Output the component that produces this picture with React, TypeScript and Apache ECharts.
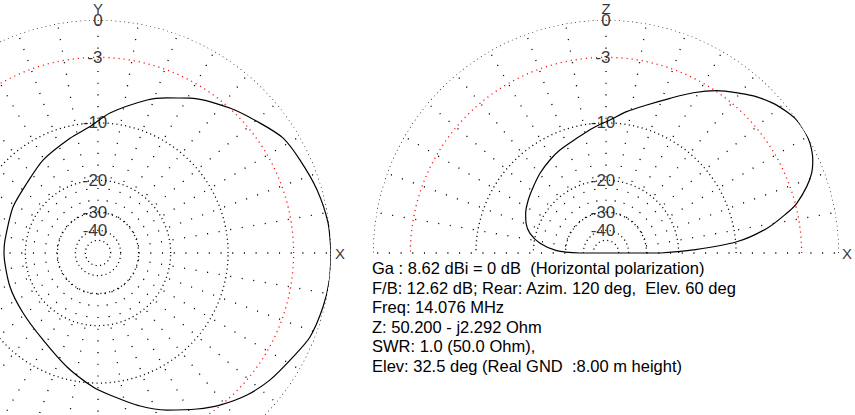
import React, { useEffect, useRef } from 'react';
import * as echarts from 'echarts';

// Azimuth pattern (left plot): angle from X axis (deg, CCW) and gain (dB rel. max)
const azimuthDeg = [0, 7.4, 16, 24.7, 31.9, 38.7, 47.7, 59.3, 66, 72.2, 85.1, 93.6, 103.7, 120.6, 135.4, 151.6, 172, 180, 201, 218.7, 237.7, 254.8, 267.9, 274.8, 285.4, 293.7, 302.4, 308.7, 316.4, 323.6, 331.9, 338.4, 346.5, 353.4, 360];
const azimuthDb = [0, -0.07, -0.37, -0.8, -1.16, -1.97, -2.97, -4.41, -5.44, -6.38, -8.68, -10.45, -11.66, -13.2, -14.57, -15.11, -15.6, -15.58, -15.53, -15.22, -14.03, -11.66, -9.48, -8.44, -6.59, -5.26, -3.98, -3.07, -2.13, -1.48, -0.91, -0.37, -0.12, 0, 0];

// Elevation pattern (right plot): elevation angle from X axis (deg) and gain (dB rel. max)
const elevationDeg = [0, 2, 4.9, 8.7, 12.4, 14.6, 18.3, 21.2, 24.2, 28.3, 31.7, 34.9, 38, 41.8, 46, 50, 55.7, 61.4, 67.5, 74.6, 81.7, 88.3, 95.9, 104.3, 114.1, 121.1, 129.6, 137.6, 145.7, 153.7, 159.6, 165.5, 171.6, 177.3, 180];
const elevationDb = [-24.8, -16.9, -9.86, -6.17, -3.96, -2.87, -1.67, -0.94, -0.47, -0.1, 0, -0.04, -0.27, -0.64, -1.21, -1.91, -2.92, -4.19, -5.67, -7.16, -8.4, -9.61, -10.59, -11.62, -12.45, -13.1, -13.93, -14.8, -15.56, -16.4, -17.25, -18.67, -21.47, -26.62, -37.6];

// Grid rings (dB) and their tick labels
const ringDb = [0, -3, -10, -20, -30, -40, -50];
const ringLabels = ['0', '-3', '-10', '-20', '-30', '-40'];
const spokeStartDb = -30;

const infoLines = [
  'Ga : 8.62 dBi = 0 dB  (Horizontal polarization)',
  'F/B: 12.62 dB; Rear: Azim. 120 deg,  Elev. 60 deg',
  'Freq: 14.076 MHz',
  'Z: 50.200 - j2.292 Ohm',
  'SWR: 1.0 (50.0 Ohm),',
  'Elev: 32.5 deg (Real GND  :8.00 m height)',
];

const FONT = '"Liberation Sans", Arial, sans-serif';

// ARRL log-periodic radial scale: dB -> normalized radius
const toR = (db: number) => Math.pow(0.89, -db / 2);

function ringAngles(max: number) {
  const a: number[] = [];
  for (let t = 0; t <= max; t += 2) a.push(t);
  return a;
}

function gridSeries(polarIndex: number, maxAngle: number) {
  const out: any[] = [];
  ringDb.forEach((db) => {
    out.push({
      type: 'line',
      coordinateSystem: 'polar',
      polarIndex,
      silent: true,
      symbol: 'none',
      clip: false,
      z: 1,
      lineStyle: {
        color: db === -3 ? '#ff0000' : '#000000',
        width: 1.3,
        type: db === -3 ? [1.1, 4] : [1.1, 3.3],
      },
      data: ringAngles(maxAngle).map((a) => [toR(db), a]),
    });
  });
  const stop = maxAngle >= 360 ? 350 : maxAngle;
  for (let a = 0; a <= stop; a += 10) {
    out.push({
      type: 'line',
      coordinateSystem: 'polar',
      polarIndex,
      silent: true,
      symbol: 'none',
      clip: false,
      z: 1,
      lineStyle: { color: '#000000', width: 1.3, type: [1.1, 10.6] },
      data: [
        [toR(spokeStartDb), a],
        [1, a],
      ],
    });
  }
  return out;
}

function labelSeries(polarIndex: number, axisLetter: string) {
  const data: any[] = ringLabels.map((t, i) => ({
    value: [toR(ringDb[i]), 90],
    label: {
      show: true,
      position: 'inside',
      formatter: t,
      offset: [t === '0' ? 0 : -3, 0],
      fontSize: 17,
      fontFamily: FONT,
      color: '#000000',
    },
  }));
  data.push({
    value: [1, 90],
    label: {
      show: true,
      position: 'inside',
      formatter: axisLetter,
      offset: [0, -12],
      fontSize: 15,
      fontFamily: FONT,
      color: '#000000',
    },
  });
  data.push({
    value: [1, 0],
    label: {
      show: true,
      position: 'inside',
      formatter: 'X',
      offset: [polarIndex === 0 ? 9 : 8, 0.5],
      fontSize: 15,
      fontFamily: FONT,
      color: '#000000',
    },
  });
  return {
    type: 'scatter',
    coordinateSystem: 'polar',
    polarIndex,
    silent: true,
    symbolSize: 0,
    clip: false,
    z: 5,
    label: {
      show: true,
      position: 'inside',
      color: '#000000',
      fontSize: 17,
      fontFamily: FONT,
    },
    data,
  };
}

export default function App() {
  const ref = useRef<HTMLDivElement>(null);
  useEffect(() => {
    if (!ref.current) return;
    const chart = echarts.init(ref.current, undefined, { renderer: 'svg' });

    const azData = azimuthDeg.map((a, i) => [toR(azimuthDb[i]), a]);
    const elData = elevationDeg.map((a, i) => [toR(elevationDb[i]), a]);
    const last = elData.length - 1;
    const baseline = [
      [elData[last][0], elevationDeg[last]],
      [0, 0],
      [elData[0][0], elevationDeg[0]],
    ];

    const axisDefs = [0, 1].map((p) => ({
      angle: {
        polarIndex: p,
        type: 'value',
        min: 0,
        max: 360,
        startAngle: 0,
        clockwise: false,
        show: false,
      },
      radius: {
        polarIndex: p,
        type: 'value',
        min: 0,
        max: 1,
        show: false,
      },
    }));

    chart.setOption({
      animation: false,
      backgroundColor: '#ffffff',
      polar: [
        { center: [98, 253], radius: 233 },
        { center: [606, 253], radius: 233 },
      ],
      angleAxis: axisDefs.map((d) => d.angle),
      radiusAxis: axisDefs.map((d) => d.radius),
      graphic: infoLines.map((t, i) => ({
        type: 'text',
        x: 372,
        y: 268 + 19.6 * i,
        silent: true,
        style: {
          text: t,
          fill: '#000000',
          fontSize: 16.5,
          fontFamily: FONT,
          verticalAlign: 'middle',
        },
      })),
      series: [
        ...gridSeries(0, 360),
        ...gridSeries(1, 180),
        labelSeries(0, 'Y'),
        labelSeries(1, 'Z'),
        {
          type: 'line',
          coordinateSystem: 'polar',
          polarIndex: 0,
          silent: true,
          symbol: 'none',
          clip: false,
          smooth: 0.25,
          z: 3,
          lineStyle: { color: '#000000', width: 1.2 },
          data: azData,
        },
        {
          type: 'line',
          coordinateSystem: 'polar',
          polarIndex: 1,
          silent: true,
          symbol: 'none',
          clip: false,
          smooth: 0.3,
          z: 3,
          lineStyle: { color: '#000000', width: 1.2 },
          data: elData,
        },
        {
          type: 'line',
          coordinateSystem: 'polar',
          polarIndex: 1,
          silent: true,
          symbol: 'none',
          clip: false,
          z: 3,
          lineStyle: { color: '#000000', width: 1.2 },
          data: baseline,
        },
      ],
    });
    return () => chart.dispose();
  }, []);

  return (
    <div
      ref={ref}
      style={{ position: 'absolute', left: 0, top: 0, width: 855, height: 415, background: '#fff' }}
    />
  );
}
